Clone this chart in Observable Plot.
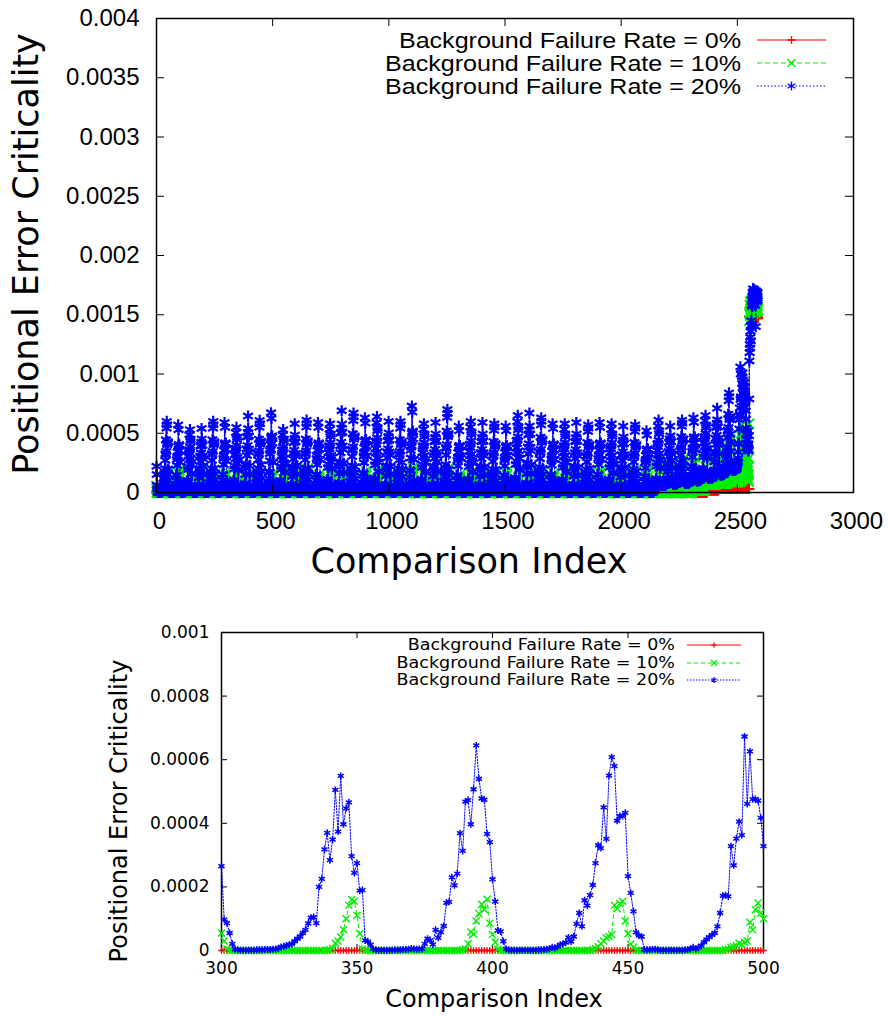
<!DOCTYPE html>
<html><head><meta charset="utf-8">
<script src="https://cdn.jsdelivr.net/npm/d3@7"></script>
<script src="https://cdn.jsdelivr.net/npm/@observablehq/plot@0.6"></script>
<style>
html,body{margin:0;padding:0;background:#fff}
body{width:888px;height:1016px;position:relative;overflow:hidden}
#top{position:absolute;left:0;top:0}
#bot{position:absolute;left:0;top:600px}
</style></head><body>
<div id="top"></div><div id="bot"></div>
<script>
// ---------------- DATA ----------------
const seriesNames = ["Background Failure Rate = 0%", "Background Failure Rate = 10%", "Background Failure Rate = 20%"];
const xTitle = "Comparison Index";
const yTitle = "Positional Error Criticality";

// top panel ticks
const xTicksTop = [0, 500, 1000, 1500, 2000, 2500, 3000];
const xTickLabelsTop = ["0", "500", "1000", "1500", "2000", "2500", "3000"];
const yTicksTop = [0, 0.0005, 0.001, 0.0015, 0.002, 0.0025, 0.003, 0.0035, 0.004];
const yTickLabelsTop = ["0", "0.0005", "0.001", "0.0015", "0.002", "0.0025", "0.003", "0.0035", "0.004"];
// bottom panel ticks
const xTicksBottom = [300, 350, 400, 450, 500];
const xTickLabelsBottom = ["300", "350", "400", "450", "500"];
const yTicksBottom = [0, 0.0002, 0.0004, 0.0006, 0.0008, 0.001];
const yTickLabelsBottom = ["0", "0.0002", "0.0004", "0.0006", "0.0008", "0.001"];

// bottom panel: comparison index 300..500
const bottomStart = 300;
const rate20 = [
 0.000265,0.000097,0.000086,0.000055,0.000021,0.000004,0.000002,0.000001,0.000001,0.000001, // 300
 0.000001,0.000001,0.000001,0.000002,0.000002,0.000002,0.000003,0.000003,0.000003,0.000004, // 310
 0.000005,0.000007,0.000011,0.000013,0.000016,0.000018,0.000021,0.000029,0.000037,0.000044, // 320
 0.000055,0.000065,0.000085,0.000103,0.000105,0.000086,0.0002,0.000225,0.000318,0.00037,    // 330
 0.000284,0.000349,0.000505,0.000374,0.000549,0.000397,0.000447,0.000466,0.000297,0.000244, // 340
 0.000275,0.000188,0.00019,0.000032,0.000028,0.000018,0.000005,0.000002,0.000001,0.000001,  // 350
 0.000001,0.000001,0.000001,0.000001,0.000002,0.000002,0.000002,0.000003,0.000003,0.000004, // 360
 0.000006,0.000005,0.000004,0.000005,0.000005,0.000021,0.000037,0.000032,0.000019,0.000065, // 370
 0.00004,0.000058,0.000077,0.00015,0.000153,0.00023,0.000205,0.000242,0.000369,0.000313,    // 380
 0.000468,0.000473,0.000397,0.000507,0.000645,0.00054,0.000478,0.000474,0.000367,0.000341,  // 390
 0.000224,0.000154,0.000063,0.00006,0.000029,0.000005,0.000002,0.000001,0.000001,0.000001,  // 400
 0.000001,0.000001,0.000001,0.000001,0.000001,0.000001,0.000001,0.000002,0.000002,0.000003, // 410
 0.000004,0.000006,0.00001,0.000008,0.000012,0.000018,0.000021,0.000025,0.000041,0.000028,  // 420
 0.000044,0.000084,0.000118,0.000076,0.000158,0.000141,0.000174,0.000206,0.000275,0.000331, // 430
 0.000322,0.00045,0.000351,0.00055,0.000608,0.00058,0.000408,0.000423,0.000423,0.000433,    // 440
 0.000234,0.000181,0.000123,0.000057,0.000047,0.000044,0.000003,0.000002,0.000002,0.000003, // 450
 0.000004,0.000002,0.000001,0.000001,0.000001,0.000001,0.000001,0.000001,0.000001,0.000001, // 460
 0.000001,0.000002,0.000003,0.000005,0.00001,0.000005,0.00001,0.000015,0.000026,0.000035,   // 470
 0.000042,0.000049,0.000055,0.000076,0.000118,0.000172,0.000174,0.00017,0.000328,0.000268,  // 480
 0.000352,0.000405,0.000363,0.000673,0.000461,0.000626,0.000476,0.000476,0.000471,0.000417, // 490
 0.000328                                                                                    // 500
];
const rate10 = [
 0.000055,0.00003,0.000005,0,0,0,0,0,0,0,                                                    // 300
 0,0,0,0,0,0,0,0,0,0,                                                                        // 310
 0,0,0,0,0,0,0,0,0,0,                                                                        // 320
 0,0,0,0,0,0,0,0,0,0,                                                                        // 330
 0.000002,0.000006,0.000023,0.00003,0.000042,0.000065,0.0001,0.000142,0.00016,0.000155,     // 340
 0.00011,0.000053,0.000005,0,0,0,0,0,0,0,                                                    // 350
 0,0,0,0,0,0,0,0,0,0,                                                                        // 360
 0,0,0,0,0,0,0,0,0,0,                                                                        // 370
 0,0,0,0,0,0,0,0,0,0.000002,                                                                 // 380
 0.000005,0.000021,0.000058,0.000051,0.000093,0.000116,0.000145,0.000129,0.000161,0.000086, // 390
 0.00005,0.000026,0.000004,0,0,0,0,0,0,0,                                                    // 400
 0,0,0,0,0,0,0,0,0,0,                                                                        // 410
 0,0,0,0,0,0,0,0,0,0,                                                                        // 420
 0,0,0,0,0,0,0,0.000003,0.000006,0.000012,                                                   // 430
 0.000021,0.00003,0.00004,0.000044,0.00005,0.000142,0.000131,0.000148,0.000155,0.000093,    // 440
 0.000053,0.00002,0.00001,0,0,0,0,0,0,0,                                                     // 450
 0,0,0,0,0,0,0,0,0,0,                                                                        // 460
 0,0,0,0,0,0,0,0,0,0,                                                                        // 470
 0,0,0,0,0,0,0.000003,0.000005,0.00001,0.000012,                                             // 480
 0.000015,0.000023,0.000019,0.000026,0.00003,0.000089,0.000065,0.000128,0.000149,0.000118,  // 490
 0.0001                                                                                      // 500
];
const rate0 = new Array(201).fill(0); // red series reads 0 all across 300..500

// top panel: the run is a sequence of ~50-comparison cycles; for each cycle the
// heights (peak of the column, level of its floor)
const cycleLength = [
 50,50,50,50,50,50,50,50,50,50,
 51,50,51,50,51,50,51,50,51,50,
 51,50,51,50,51,50,51,50,51,50,
 51,50,51,50,51,50,51,50,51,50,
 51,50,51,50,51,50,51,50,51,50];
const peak20 = [
 0.0006,0.00057,0.00053,0.00054,0.0006,0.00059,0.000549,0.000645,0.000608,0.000673,
 0.00053,0.00058,0.00061,0.00059,0.00058,0.00069,0.00067,0.00063,0.00064,0.0006,
 0.0006,0.00073,0.00058,0.00059,0.0007,0.00056,0.0006,0.00059,0.00058,0.00056,
 0.00065,0.00067,0.00063,0.00058,0.00058,0.00059,0.00057,0.00059,0.00058,0.00056,
 0.00057,0.00052,0.00061,0.00056,0.00061,0.00063,0.00065,0.00071,0.00084,0.00106];
const floor20 = [
 0,0,0,0,0,0,0,0,0,0, 0,0,0,0,0,0,0,0,0,0, 0,0,0,0,0,0,0,0,0,0, 0,0,0,0,0,0,0,0,0,0,
 0,0,0,0.00006,0.00007,0.00008,0.0001,0.00012,0.00015,0.00019];
const peak10 = [
 0.00016,0.00019,0.00015,0.0002,0.00015,0.00017,0.00016,0.000161,0.000155,0.000149,
 0.00018,0.00016,0.0002,0.00015,0.00017,0.0002,0.00016,0.00018,0.00019,0.00015,
 0.00017,0.00021,0.00016,0.00018,0.0002,0.00015,0.00017,0.00019,0.00016,0.00018,
 0.0002,0.00017,0.00019,0.00016,0.00018,0.00015,0.00017,0.00019,0.00018,0.0002,
 0.00019,0.00021,0.00024,0.00026,0.00028,0.0003,0.00033,0.00038,0.00045,0.00057];
const floor10 = [
 0,0,0,0,0,0,0,0,0,0, 0,0,0,0,0,0,0,0,0,0, 0,0,0,0,0,0,0,0,0,0, 0,0,0,0,0,0,0,0,0,0,
 0,0,0,0,0,0,0.00002,0.00007,0.00008,0.00009];
const level0 = [
 0,0,0,0,0,0,0,0,0,0, 0,0,0,0,0,0,0,0,0,0, 0,0,0,0,0,0,0,0,0,0, 0,0,0,0,0,0,0,0,0,0,
 0,0,0,0,0,0,0,0.00002,0.00003,0.00003];
// the final stretch (comparisons 2520..2588), read point by point
const tailStart = 2520;
const tail20 = [
 0.00098,0.00092,0.00101,0.00088,0.00095,0.00084,0.0009,0.00079,0.00086,0.00093,
 0.00081,0.00076,0.00089,0.00083,0.00072,0.00078,0.00069,0.00062,0.00054,0.00049,
 0.00045,0.0005,0.00041,0.00037,0.00044,0.00052,0.00039,0.00035,0.00041,0.00036,
 0.00048,0.00079,0.00111,0.00118,0.00125,0.00122,0.00131,0.00136,0.00128,0.00141,
 0.00145,0.0014,0.00158,0.00163,0.00157,0.00166,0.00169,0.00161,0.00172,0.00167,
 0.00164,0.0017,0.0016,0.00168,0.00171,0.00165,0.00158,0.00169,0.00162,0.0014,
 0.00166,0.0017,0.00163,0.00168,0.00161,0.00167,0.00164,0.00169,0.00162];
const tail10 = [
 0.00057,0.00049,0.00052,0.00045,0.00041,0.00048,0.00036,0.00039,0.00044,0.00033,
 0.00038,0.00031,0.00035,0.00027,0.00042,0.00025,0.00033,0.00022,0.0003,0.00019,
 0.00026,0.00016,0.00023,0.00014,0.00021,0.00012,0.00018,0.0001,0.00015,0.00009,
 0.00029,0.00058,0.00145,0.00152,0.00158,0.0015,0.00161,0.00155,0.00149,0.0016,
 0.00156,0.00152,0.00162,0.00158,0.00154,0.0016,0.00157,0.00151,0.00159,0.00163,
 0.00155,0.00158,0.00161,0.00153,0.00157,0.0016,0.00154,0.00158,0.00152,0.00156,
 0.00161,0.00155,0.00159,0.00153,0.00157,0.0016,0.00155,0.00158,0.00154];
const tail0 = [
 0.00003,0.00003,0.00003,0.00003,0.00003,0.00003,0.00003,0.00003,0.00003,0.00003,
 0.00003,0.00003,0.00003,0.00003,0.00003,0.00003,0.00003,0.00003,0.00003,0.00003,
 0.00003,0.00003,0.00003,0.00003,0.00003,0.00003,0.00003,0.00003,0.00003,0.00003,
 0.00003,0.00003,0.00148,0.00149,0.00148,0.00147,0.00148,0.00149,0.00148,0.00147,
 0.00148,0.00148,0.00149,0.00148,0.00147,0.00148,0.00149,0.00148,0.00148,0.00147,
 0.00148,0.00149,0.00148,0.00148,0.00147,0.00148,0.00149,0.00148,0.00147,0.00148,
 0.00148,0.00149,0.00148,0.00147,0.00148,0.00149,0.00148,0.00148,0.00147];

// ---------------- BUILD TABLES ----------------
const bottom0 = rate0.map((v, k) => ({i: bottomStart + k, v}));
const bottom10 = rate10.map((v, k) => ({i: bottomStart + k, v}));
const bottom20 = rate20.map((v, k) => ({i: bottomStart + k, v}));

// cycle shapes of the four fully read cycles (300..349, 350..399, 400..449, 450..499)
const shape = (arr, c) => { const s = arr.slice(50 * c, 50 * c + 50); const m = d3.max(s); return s.map(v => v / m); };
const shapes20 = [0, 1, 2, 3].map(c => shape(rate20, c));
const shapes10 = [0, 1, 2, 3].map(c => shape(rate10, c));

const top0 = [], top10 = [], top20 = [];
let s = 0;
cycleLength.forEach((L, k) => {
  const c = ((k - 6) % 4 + 4) % 4;
  for (let j = 0; j < L; j++) {
    const t = Math.max(0, j - (L - 50));
    const i = s + j;
    top20.push({i, v: floor20[k] + shapes20[c][t] * (peak20[k] - floor20[k])});
    top10.push({i, v: floor10[k] + shapes10[c][t] * (peak10[k] - floor10[k])});
    top0.push({i, v: level0[k]});
  }
  s += L;
});
tail20.forEach((v, k) => top20.push({i: tailStart + k, v}));
tail10.forEach((v, k) => top10.push({i: tailStart + k, v}));
tail0.forEach((v, k) => top0.push({i: tailStart + k, v}));

// ---------------- STYLES ----------------
const RED = "#ff0000", GREEN = "#00ee00", BLUE = "#0000ff";

function panel(cfg) {
  const fh = cfg.height - cfg.mt - cfg.mb, fw = cfg.width - cfg.ml - cfg.mr;
  const T = cfg.tick;
  const data = [
    Plot.line(cfg.d0, {x: "i", y: "v", stroke: RED, strokeWidth: cfg.lw}),
    Plot.dot(cfg.d0, {x: "i", y: "v", symbol: "plus", r: cfg.rPlus, stroke: RED, fill: "none", strokeWidth: cfg.sw}),
    Plot.line(cfg.d10, {x: "i", y: "v", stroke: GREEN, strokeWidth: cfg.lw, strokeDasharray: cfg.dash}),
    Plot.dot(cfg.d10, {x: "i", y: "v", symbol: "times", r: cfg.rTimes, stroke: GREEN, fill: "none", strokeWidth: cfg.sw}),
    Plot.line(cfg.d20, {x: "i", y: "v", stroke: BLUE, strokeWidth: cfg.lw, strokeDasharray: cfg.dot}),
    Plot.dot(cfg.d20, {x: "i", y: "v", symbol: "asterisk", r: cfg.rAst, stroke: BLUE, fill: "none", strokeWidth: cfg.swAst})
  ];
  const frame = [
    Plot.frame({stroke: "black", strokeWidth: 1.5}),
    Plot.ruleX(cfg.xTicks, {x: d => d, insetTop: fh - T, stroke: "black"}),
    Plot.ruleX(cfg.xTicks, {x: d => d, insetBottom: fh - T, stroke: "black"}),
    Plot.ruleY(cfg.yTicks, {y: d => d, insetRight: fw - T, stroke: "black"}),
    Plot.ruleY(cfg.yTicks, {y: d => d, insetLeft: fw - T, stroke: "black"})
  ];
  const labels = [
    Plot.text(cfg.xTicks, {x: d => d, frameAnchor: "bottom", dy: cfg.xdy, dx: cfg.xdx, text: (d, i) => cfg.xLabels[i],
      fontSize: cfg.tickFont, fontFamily: cfg.tickFamily, lineAnchor: "middle", fill: "black"}),
    Plot.text(cfg.yTicks, {y: d => d, frameAnchor: "left", dx: cfg.ydx, textAnchor: "end", text: (d, i) => cfg.yLabels[i],
      fontSize: cfg.tickFont, fontFamily: cfg.tickFamily, lineAnchor: "middle", fill: "black"})
  ];
  const svg = Plot.plot({
    width: cfg.width, height: cfg.height,
    marginLeft: cfg.ml, marginRight: cfg.mr, marginTop: cfg.mt, marginBottom: cfg.mb,
    x: {domain: cfg.xDomain, axis: null},
    y: {domain: cfg.yDomain, axis: null},
    style: {background: "white", overflow: "visible"},
    marks: cfg.frameFirst ? [...frame, ...data, ...labels] : [...data, ...frame, ...labels]
  });
  const g = d3.select(svg).append("g");
  // axis titles
  g.append("text").attr("x", cfg.xt[0]).attr("y", cfg.xt[1]).attr("text-anchor", "middle")
    .attr("font-family", cfg.titleFamily).attr("font-size", cfg.titleFont).attr("fill", "black").text(xTitle);
  g.append("text").attr("transform", `translate(${cfg.yt[0]},${cfg.yt[1]}) rotate(-90)`).attr("text-anchor", "middle")
    .attr("font-family", cfg.titleFamily).attr("font-size", cfg.titleFont).attr("fill", "black").text(yTitle);
  // key
  const L = cfg.legend;
  const styles = [
    {c: RED, dash: null, sym: d3.symbolPlus, r: cfg.rPlus},
    {c: GREEN, dash: cfg.dash, sym: d3.symbolTimes, r: cfg.rTimes},
    {c: BLUE, dash: cfg.dot, sym: d3.symbolAsterisk, r: cfg.rAst}
  ];
  seriesNames.forEach((name, k) => {
    const y = L.ys[k], st = styles[k];
    g.append("text").attr("transform", `translate(${L.xText},${y}) scale(${L.sx},1)`).attr("dy", "0.35em").attr("text-anchor", "end")
      .attr("font-family", L.family).attr("font-size", L.font).attr("fill", "black").text(name);
    g.append("line").attr("x1", L.x0).attr("x2", L.x1).attr("y1", y).attr("y2", y)
      .attr("stroke", st.c).attr("stroke-width", cfg.lw).attr("stroke-dasharray", st.dash);
    g.append("path").attr("d", d3.symbol(st.sym, Math.PI * st.r * st.r * L.symScale * L.symScale)())
      .attr("transform", `translate(${(L.x0 + L.x1) / 2},${y})`)
      .attr("fill", "none").attr("stroke", st.c).attr("stroke-width", L.sw);
  });
  return svg;
}

document.getElementById("top").append(panel({
  width: 888, height: 600, ml: 156, mr: 35, mt: 18, mb: 108,
  xDomain: [0, 3000], yDomain: [0, 0.004],
  d0: top0, d10: top10, d20: top20,
  xTicks: xTicksTop, xLabels: xTickLabelsTop, yTicks: yTicksTop, yLabels: yTickLabelsTop,
  tick: 8, lw: 1.2, sw: 1.9, swAst: 2.2, rPlus: 3.4, rTimes: 4.7, rAst: 5.3, dash: "5,3", dot: "1.5,2",
  tickFont: 24, tickFamily: "Liberation Sans", xdy: 29, xdx: 3, ydx: -17,
  titleFamily: "DejaVu Sans", titleFont: 35, xt: [469, 573], yt: [38, 254],
  legend: {xText: 741, x0: 757, x1: 826, ys: [40, 63, 86], family: "Liberation Sans", font: 22, sx: 1.14, symScale: 0.8, sw: 1.3},
  frameFirst: false
}));

document.getElementById("bot").append(panel({
  width: 888, height: 416, ml: 221, mr: 125, mt: 32, mb: 66,
  xDomain: [300, 500], yDomain: [0, 0.001],
  d0: bottom0, d10: bottom10, d20: bottom20,
  xTicks: xTicksBottom, xLabels: xTickLabelsBottom, yTicks: yTicksBottom, yLabels: yTickLabelsBottom,
  tick: 6, lw: 1, sw: 1.4, swAst: 1.5, rPlus: 2.2, rTimes: 3.3, rAst: 3.3, dash: "4,3", dot: "1.5,1.5",
  tickFont: 17, tickFamily: "DejaVu Sans", xdy: 18, xdx: 0, ydx: -12,
  titleFamily: "DejaVu Sans", titleFont: 24, xt: [494, 407], yt: [127, 211],
  legend: {xText: 675, x0: 687, x1: 741, ys: [45, 63, 80], family: "DejaVu Sans", font: 15, sx: 1.17, symScale: 0.85, sw: 1.2},
  frameFirst: true
}));
</script>
</body></html>
